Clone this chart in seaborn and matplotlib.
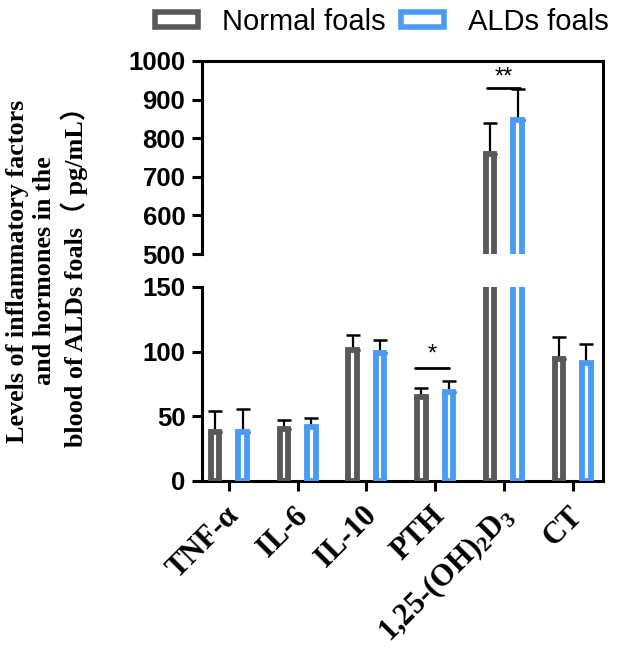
import numpy as np
import pandas as pd
import matplotlib
matplotlib.use("Agg")
import matplotlib.pyplot as plt
import seaborn as sns
from matplotlib.patches import Patch
from matplotlib.lines import Line2D
from matplotlib.container import BarContainer
from matplotlib.transforms import ScaledTranslation

# ---------------- data ----------------
categories = ["TNF-α", "IL-6", "IL-10", "PTH", "1,25-(OH)$_2$D$_3$", "CT"]
groups = ["Normal foals", "ALDs foals"]
normal_mean = [38, 40, 101, 65, 758, 94]
normal_sd = [16, 7, 12, 7, 82, 17]
alds_mean = [38, 42, 99, 69, 848, 91]
alds_sd = [18, 7, 10, 8, 80, 15]
top_ticks = [500, 600, 700, 800, 900, 1000]
bottom_ticks = [0, 50, 100, 150]
colors = ["#585858", "#4A9BF5"]
ylabel = "Levels of inflammatory factors\nand hormones in the\nblood of ALDs foals（ pg/mL）"

# ---------------- style ----------------
sns.set_style("ticks")
plt.rcParams["font.family"] = ["Liberation Sans", "DejaVu Sans"]
plt.rcParams["mathtext.default"] = "regular"
plt.rcParams["axes.linewidth"] = 2.2
plt.rcParams["text.color"] = "black"
plt.rcParams["xtick.color"] = "black"
plt.rcParams["ytick.color"] = "black"
plt.rcParams["xtick.labelcolor"] = "black"
plt.rcParams["ytick.labelcolor"] = "black"

df = pd.DataFrame({
    "cat": categories * 2,
    "group": [groups[0]] * len(categories) + [groups[1]] * len(categories),
    "val": normal_mean + alds_mean,
})

fig = plt.figure(figsize=(6.24, 6.59), dpi=100)
L, R = 202 / 624, 603 / 624
ax_top = fig.add_axes([L, 1 - 254 / 659, R - L, (254 - 61) / 659])
ax_bot = fig.add_axes([L, 1 - 481 / 659, R - L, (481 - 287) / 659])


def bar_containers(ax):
    return [c for c in ax.containers if isinstance(c, BarContainer)]


for ax in (ax_top, ax_bot):
    sns.barplot(data=df, x="cat", y="val", hue="group", order=categories,
                hue_order=groups, palette=colors, fill=False, linewidth=4.2,
                width=0.8, gap=0.69, errorbar=None, legend=False, ax=ax,
                zorder=3)
    for cont, sds in zip(bar_containers(ax), [normal_sd, alds_sd]):
        xs = [p.get_x() + p.get_width() / 2 for p in cont]
        ys = [p.get_height() for p in cont]
        ax.errorbar(xs, ys, yerr=[np.zeros(len(sds)), sds], fmt="none",
                    ecolor="black", elinewidth=1.6, capsize=5, capthick=1.8,
                    zorder=2)
    ax.set_xlim(-0.39, 5.44)
    ax.set_xlabel("")
    ax.set_ylabel("")
    for s in ax.spines.values():
        s.set_linewidth(2.2)
        s.set_color("black")
    ax.tick_params(axis="both", length=7, width=2.2, color="black")

ax_top.set_ylim(500, 1000)
ax_bot.set_ylim(0, 150)
ax_top.set_yticks(top_ticks, labels=[str(t) for t in top_ticks],
                  fontweight="bold", fontsize=18.5)
ax_bot.set_yticks(bottom_ticks, labels=[str(t) for t in bottom_ticks],
                  fontweight="bold", fontsize=18.5)
ax_top.spines["bottom"].set_visible(False)
ax_top.tick_params(axis="x", bottom=False, labelbottom=False)
ax_bot.spines["top"].set_visible(False)
ax_bot.set_xticks(range(len(categories)))
ax_bot.set_xticklabels(categories, rotation=45, ha="right", va="center",
                       rotation_mode="anchor", fontfamily="Liberation Serif",
                       fontweight="bold", fontsize=22)
ax_bot.tick_params(axis="x", pad=16)
shift = ScaledTranslation(4 / 72, 1 / 72, fig.dpi_scale_trans)
for lbl in ax_bot.get_xticklabels():
    lbl.set_transform(lbl.get_transform() + shift)
ax_top.tick_params(axis="y", pad=5)
ax_bot.tick_params(axis="y", pad=5)

# right spine continues through the gap
fig.add_artist(Line2D([R, R], [1 - 254 / 659, 1 - 287 / 659],
                      transform=fig.transFigure, color="black", lw=2.2))


# significance marks
def centers(ax, i):
    return [c[i].get_x() + c[i].get_width() / 2 for c in bar_containers(ax)]


x0, x1 = centers(ax_bot, 3)
ax_bot.plot([x0 - 0.09, x1], [87, 87], color="black", lw=2, zorder=4)
ax_bot.text((x0 + x1) / 2 - 0.04, 89, "*", ha="center", va="bottom", fontsize=17)
x0, x1 = centers(ax_top, 4)
ax_top.plot([x0 - 0.05, x1 + 0.04], [931, 931], color="black", lw=2, zorder=4)
ax_top.text((x0 + x1) / 2, 928, "**", ha="center", va="bottom", fontsize=17)

# y label
fig.text(47 / 624, 1 - 271 / 659, ylabel, rotation=90, ha="center", va="center",
         multialignment="center", fontsize=18.8, fontweight="bold",
         family=["Liberation Serif", "Noto Sans CJK SC"], linespacing=1.2)

# legend
handles = [Patch(facecolor="white", edgecolor=c, linewidth=4) for c in colors]
fig.legend(handles, groups, loc="center", bbox_to_anchor=(382 / 624, 1 - 22 / 659),
           ncol=2, frameon=False, fontsize=21, handlelength=1.48,
           handleheight=0.45, handletextpad=0.83, columnspacing=0.52,
           borderpad=0, borderaxespad=0)

fig.savefig("out.png", dpi=100)
